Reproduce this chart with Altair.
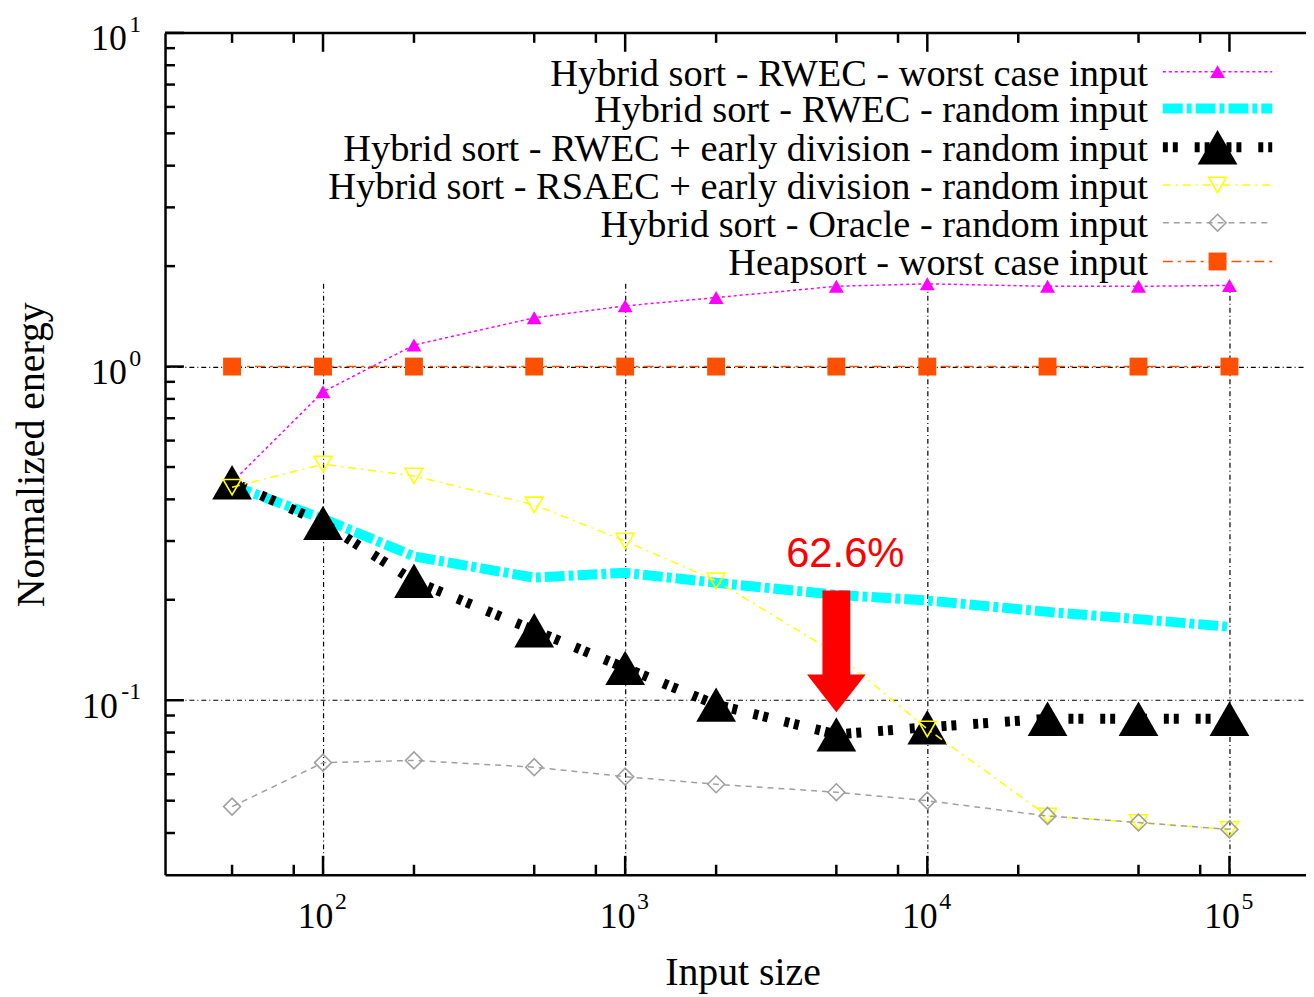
import altair as alt
import pandas as pd

# ---------------- data ----------------
input_sizes = [50, 100, 200, 500, 1000, 2000, 5000, 10000, 25000, 50000, 100000]
rwec_worst = [0.45, 0.84, 1.16, 1.40, 1.52, 1.61, 1.74, 1.77, 1.74, 1.74, 1.75]
rwec_random = [0.44, 0.35, 0.27, 0.233, 0.241, 0.225, 0.207, 0.199, 0.184, 0.175, 0.166]
rwec_early = [0.45, 0.34, 0.228, 0.162, 0.125, 0.097, 0.079, 0.083, 0.088, 0.088, 0.088]
rsaec_early = [0.435, 0.51, 0.47, 0.385, 0.30, 0.228, 0.138, 0.082, 0.045, 0.043, 0.041]
oracle = [0.048, 0.065, 0.066, 0.063, 0.059, 0.056, 0.053, 0.050, 0.045, 0.043, 0.041]
heapsort = [1.0, 1.0, 1.0, 1.0, 1.0, 1.0, 1.0, 1.0, 1.0, 1.0, 1.0]

series_names = [
    "Hybrid sort - RWEC - worst case input",
    "Hybrid sort - RWEC - random input",
    "Hybrid sort - RWEC + early division - random input",
    "Hybrid sort - RSAEC + early division - random input",
    "Hybrid sort - Oracle - random input",
    "Heapsort - worst case input",
]
series_values = [rwec_worst, rwec_random, rwec_early, rsaec_early, oracle, heapsort]

x_major = [100, 1000, 10000, 100000]
x_exponents = ["2", "3", "4", "5"]
x_minor = [50, 80, 200, 500, 800, 2000, 5000, 8000, 20000, 50000, 80000]
y_major = [0.1, 1, 10]
y_exponents = ["-1", "0", "1"]
y_minor = [0.04, 0.05, 0.06, 0.07, 0.08, 0.09,
           0.2, 0.3, 0.4, 0.5, 0.6, 0.7, 0.8, 0.9,
           2, 3, 4, 5, 6, 7, 8, 9]
tick_base = "10"

annotation_text = ["62.6%"]
annotation_x = [5000]
annotation_text_y = [0.2515]
arrow_top = [0.2133]
arrow_base = [0.1158]
arrow_tip = [0.092]

# ---------------- styles ----------------
W, H = 1148, 847
styles = [
    dict(color="#FF00FF", dash=[3, 3], width=1.5, shape="triangle-up", filled=True, size=225),
    dict(color="#00FFFF", dash=[20, 4, 5, 4], width=10, shape=None, filled=True, size=0),
    dict(color="#000000", dash=[5, 5, 5, 17], width=10, shape="triangle-up", filled=True, size=1600),
    dict(color="#FFFF00", dash=[8, 5, 2, 5], width=1.5, shape="triangle-down", filled=False, size=324),
    dict(color="#A0A0A0", dash=[6, 5], width=1.5, shape="diamond", filled=False, size=289),
    dict(color="#FF4F00", dash=[10, 5, 3, 5], width=1.5, shape="square", filled=True, size=324),
]
legend_rows = [39, 76, 115, 153, 191, 230]
legend_text_x = 989
legend_line_x = (1004, 1114)
legend_marker_x = 1059

SERIF = "Liberation Serif"

xscale = alt.Scale(type="log", domain=[30, 179200], nice=False)
yscale = alt.Scale(type="log", domain=[0.03, 10], nice=False)

x_axis = alt.Axis(
    values=x_major, labelExpr=f"'{tick_base}'",
    title="Input size", grid=True, gridDash=[5, 3, 1, 3], gridColor="black",
    gridWidth=1.2, gridOpacity=1, ticks=False,
    domain=True, domainColor="black", domainWidth=2.5,
    labelFont=SERIF, labelFontSize=36, labelColor="black",
    labelBaseline="alphabetic", labelPadding=53, labelOffset=-8,
    labelFlush=False, labelOverlap=False,
    titleFont=SERIF, titleFontSize=40, titleFontWeight="normal",
    titleColor="black", titleX=581, titleY=110,
    titleBaseline="alphabetic", titleAlign="center",
)
y_axis = alt.Axis(
    values=y_major, labelExpr=f"'{tick_base}'",
    title="Normalized energy", grid=True, gridDash=[5, 3, 1, 3], gridColor="black",
    gridWidth=1.2, gridOpacity=1, ticks=False,
    domain=True, domainColor="black", domainWidth=2.5,
    labelFont=SERIF, labelFontSize=36, labelColor="black",
    labelBaseline="alphabetic",
    labelPadding={"condition": {"test": "datum.value < 0.5", "value": 48}, "value": 39},
    labelOffset=17,
    labelFlush=False, labelOverlap=False,
    titleFont=SERIF, titleFontSize=40, titleFontWeight="normal",
    titleColor="black", titleX=-122, titleY=424, titleAngle=270,
    titleBaseline="alphabetic", titleAlign="center",
)


def XE(field):
    return alt.X(f"{field}:Q", scale=xscale, axis=x_axis)


def YE(field):
    return alt.Y(f"{field}:Q", scale=yscale, axis=y_axis)


one = pd.DataFrame({"k": [0]})
layers = []

# opaque legend box (covers grid like gnuplot's key box)
layers.append(
    alt.Chart(one).mark_rect(color="white", opacity=1).encode(
        x=alt.value(150), x2=alt.value(W), y=alt.value(0), y2=alt.value(250))
)

# top frame
layers.append(
    alt.Chart(one).mark_rule(color="black", strokeWidth=2.5).encode(
        x=alt.value(0), x2=alt.value(W), y=alt.value(0))
)


def yticks(vals, length):
    return alt.Chart(pd.DataFrame({"v": vals})).mark_rule(color="black", strokeWidth=2.5).encode(
        y=YE("v"), x=alt.value(0), x2=alt.value(length))


def xticks(vals, length, top):
    y0, y1 = (0, length) if top else (H - length, H)
    return alt.Chart(pd.DataFrame({"v": vals})).mark_rule(color="black", strokeWidth=2.5).encode(
        x=XE("v"), y=alt.value(y0), y2=alt.value(y1))


layers += [yticks(y_major, 19), yticks(y_minor, 10),
           xticks(x_major, 19, True), xticks(x_minor, 10, True),
           xticks(x_major, 19, False), xticks(x_minor, 10, False)]

# tick-label exponents (superscripts)
layers.append(
    alt.Chart(pd.DataFrame({"v": x_major, "e": x_exponents}))
    .mark_text(font=SERIF, fontSize=24, color="black", align="left",
               baseline="alphabetic", dx=12)
    .encode(x=XE("v"), y=alt.value(H + 35), text="e:N")
)
layers.append(
    alt.Chart(pd.DataFrame({"v": y_major, "e": y_exponents}))
    .mark_text(font=SERIF, fontSize=24, color="black", align="right",
               baseline="alphabetic", dy=-1)
    .encode(y=YE("v"), x=alt.value(-24), text="e:N")
)

# data series
for vals, st in zip(series_values, styles):
    df = pd.DataFrame({"x": input_sizes, "y": vals})
    base = alt.Chart(df).encode(x=XE("x"), y=YE("y"))
    layers.append(base.mark_line(color=st["color"], strokeDash=st["dash"],
                                 strokeWidth=st["width"], interpolate="linear"))
    if st["shape"]:
        if st["filled"]:
            pm = base.mark_point(shape=st["shape"], size=st["size"], filled=True,
                                 color=st["color"], opacity=1, strokeWidth=0)
        else:
            pm = base.mark_point(shape=st["shape"], size=st["size"], filled=False,
                                 color=st["color"], opacity=1, strokeWidth=1.6)
        layers.append(pm)

# annotation
ann = pd.DataFrame({"x": annotation_x, "ty": annotation_text_y, "t": annotation_text,
                    "top": arrow_top, "base": arrow_base, "tip": arrow_tip})
layers.append(
    alt.Chart(ann).mark_rule(color="#FF0000", strokeWidth=28).encode(
        x=XE("x"), y=YE("top"), y2="base:Q")
)
layers.append(
    alt.Chart(ann).mark_point(shape="M-1,-1.29L1,-1.29L0,0Z", size=3481, filled=True,
                              color="#FF0000", opacity=1, strokeWidth=0).encode(
        x=XE("x"), y=YE("tip"))
)
layers.append(
    alt.Chart(ann).mark_text(font="Liberation Sans", fontSize=42, color="#FF0000",
                             baseline="alphabetic", align="center", dx=9).encode(
        x=XE("x"), y=YE("ty"), text="t:N")
)

# legend
for name, st, ry in zip(series_names, styles, legend_rows):
    ldf = pd.DataFrame({"name": [name]})
    layers.append(
        alt.Chart(ldf).mark_text(font=SERIF, fontSize=38.6, color="black",
                                 align="right", baseline="middle").encode(
            x=alt.value(legend_text_x), y=alt.value(ry + 2), text="name:N")
    )
    layers.append(
        alt.Chart(ldf).mark_rule(color=st["color"], strokeDash=st["dash"],
                                 strokeWidth=st["width"]).encode(
            x=alt.value(legend_line_x[0]), x2=alt.value(legend_line_x[1]), y=alt.value(ry))
    )
    if st["shape"]:
        if st["filled"]:
            lm = alt.Chart(ldf).mark_point(shape=st["shape"], size=st["size"], filled=True,
                                           color=st["color"], opacity=1, strokeWidth=0)
        else:
            lm = alt.Chart(ldf).mark_point(shape=st["shape"], size=st["size"], filled=False,
                                           color=st["color"], opacity=1, strokeWidth=1.6)
        layers.append(lm.encode(x=alt.value(legend_marker_x), y=alt.value(ry)))

chart = (
    alt.layer(*layers)
    .properties(width=W, height=H,
                padding={"left": 158, "top": 22, "right": 0, "bottom": 119},
                autosize=alt.AutoSizeParams(type="none"))
    .configure_view(strokeWidth=0)
    .configure(background="white")
)

chart.save("out.html", embed_options={"renderer": "svg", "actions": False})
